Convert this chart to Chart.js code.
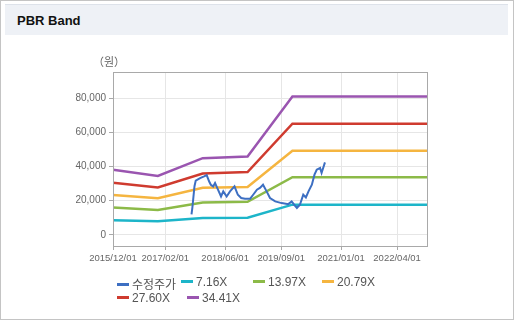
<!DOCTYPE html>
<html>
<head>
<meta charset="utf-8">
<script src="https://cdn.jsdelivr.net/npm/chart.js@4.4.0/dist/chart.umd.min.js"></script>
<style>
  body { margin: 0; background: #fff; font-family: "Liberation Sans", Arial, sans-serif; }
  #frame { position: absolute; left: 0; top: 0; width: 512px; height: 318px; border: 1px solid #c4c4c4; }
  #header { position: absolute; left: 5px; top: 4px; width: 503px; height: 30px; background: #eef1f6; border-top: 1px solid #dde2ea; }
  #title { position: absolute; left: 12px; top: 8px; font-weight: bold; font-size: 13px; color: #111; }
  #unit { position: absolute; left: 93px; top: 53px; font-size: 11px; color: #666; font-family: "Noto Sans CJK KR", sans-serif; }
  #wrap { position: absolute; left: 0; top: 0; width: 514px; height: 325px; }
  .lg { position: absolute; font-size: 12px; color: #555; white-space: nowrap; font-family: "Liberation Sans", "Noto Sans CJK KR", sans-serif; }
  .lg i { display: inline-block; width: 12px; height: 3px; margin-right: 3px; vertical-align: middle; position: relative; top: -1px; }
</style>
</head>
<body>
<div id="frame"></div>
<div id="header"><div id="title">PBR Band</div></div>
<div id="wrap"><canvas id="pbrChart" width="514" height="325"></canvas></div>
<div id="unit">（원）</div>
<div id="legend"></div>
<script>
// 가격 시계열 (수정주가)
const priceDates = [
  '2017/09/01', '2017/09/08', '2017/09/25', '2017/10/05', '2017/11/10', '2017/12/12',
  '2018/01/03', '2018/01/22', '2018/02/06', '2018/02/25', '2018/03/10', '2018/03/22',
  '2018/04/28', '2018/05/16', '2018/06/13', '2018/07/10', '2018/08/16', '2018/09/13',
  '2018/10/10', '2018/11/10', '2018/12/22', '2019/01/16', '2019/02/16', '2019/03/10',
  '2019/04/05', '2019/05/04', '2019/06/01', '2019/07/13', '2019/09/04', '2019/10/28',
  '2019/11/25', '2019/12/16', '2020/01/07', '2020/02/01', '2020/02/28', '2020/03/19',
  '2020/04/10', '2020/05/07', '2020/05/28', '2020/06/16', '2020/07/13', '2020/07/25',
  '2020/08/22'
];
const priceValues = [
  12000, 16000, 28500, 31800, 33300, 34300,
  35000, 31400, 29400, 28400, 30400, 28400,
  22500, 25500, 22500, 25500, 28400, 23500,
  21600, 21200, 21200, 23500, 26500, 27500,
  29400, 25500, 21600, 19600, 18600, 18000,
  19600, 17600, 15700, 17600, 23500, 21900,
  25500, 29400, 35300, 38200, 39200, 36300,
  42500
];

// 밴드 기준일과 배수별 가격
const bandDates = ['2015/12/01', '2016/12/01', '2017/12/01', '2018/12/01', '2019/12/01', '2022/12/01'];
const band716 = [8500, 7900, 9800, 10000, 17700, 17700];
const band1397 = [16000, 14500, 19000, 19400, 33800, 33800];
const band2079 = [23300, 21400, 27600, 28000, 49300, 49300];
const band2760 = [30600, 27800, 36000, 36800, 65200, 65200];
const band3441 = [38200, 34500, 45000, 46000, 81200, 81200];

const xTickLabels = ['2015/12/01', '2017/02/01', '2018/06/01', '2019/09/01', '2021/01/01', '2022/04/01'];
const yTickValues = [0, 20000, 40000, 60000, 80000];

// 날짜 문자열 -> 2015/12/01 기준 개월 수
function monthIndex(str) {
  const [y, m, d] = str.split('/').map(Number);
  return (y - 2015) * 12 + (m - 12) + (d - 1) / 30;
}
function toPoints(dates, values) {
  return dates.map((d, i) => ({ x: monthIndex(d), y: values[i] }));
}

const series = [
  { label: '수정주가', color: '#3d6fc2', data: toPoints(priceDates, priceValues), width: 2 },
  { label: '7.16X', color: '#1db5c9', data: toPoints(bandDates, band716), width: 2.5 },
  { label: '13.97X', color: '#8cba48', data: toPoints(bandDates, band1397), width: 2.5 },
  { label: '20.79X', color: '#f5b540', data: toPoints(bandDates, band2079), width: 2.5 },
  { label: '27.60X', color: '#cf3b2f', data: toPoints(bandDates, band2760), width: 2.5 },
  { label: '34.41X', color: '#9a55b0', data: toPoints(bandDates, band3441), width: 2.5 }
];

// 차트 영역 테두리
const frameBox = {
  id: 'frameBox',
  afterDraw(chart) {
    const a = chart.chartArea, ctx = chart.ctx;
    ctx.save();
    ctx.strokeStyle = '#a9a9a9';
    ctx.lineWidth = 1;
    ctx.strokeRect(Math.round(a.left) + 0.5, Math.round(a.top) + 0.5, Math.round(a.right - a.left), Math.round(a.bottom - a.top));
    ctx.restore();
  }
};

const chart = new Chart(document.getElementById('pbrChart').getContext('2d'), {
  type: 'line',
  data: {
    datasets: series.map(s => ({
      label: s.label, data: s.data, borderColor: s.color, backgroundColor: s.color,
      borderWidth: s.width, pointRadius: 0, tension: 0, fill: false
    }))
  },
  options: {
    responsive: false,
    animation: false,
    layout: { padding: { left: 0, top: 72, right: 87, bottom: 59 } },
    plugins: { legend: { display: false }, tooltip: { enabled: false } },
    scales: {
      x: {
        type: 'linear', min: 0, max: 84,
        afterBuildTicks: scale => { scale.ticks = xTickLabels.map(t => ({ value: monthIndex(t) })); },
        afterFit: scale => { scale.height = 20; },
        ticks: {
          color: '#666', font: { size: 9.5, family: 'Liberation Sans' }, maxRotation: 0, autoSkip: false, padding: 3,
          callback: (v, i) => xTickLabels[i]
        },
        grid: { color: '#e6e6e6', tickColor: '#a9a9a9', tickLength: 4 },
        border: { color: '#a9a9a9' }
      },
      y: {
        min: -6600, max: 95600,
        afterBuildTicks: scale => { scale.ticks = yTickValues.map(v => ({ value: v })); },
        afterFit: scale => { scale.width = 113; },
        ticks: {
          color: '#666', font: { size: 10, family: 'Liberation Sans' }, padding: 3,
          callback: v => v.toLocaleString('en-US')
        },
        grid: { color: '#e6e6e6', tickColor: '#a9a9a9', tickLength: 4 },
        border: { color: '#a9a9a9' }
      }
    }
  },
  plugins: [frameBox]
});

// 범례
const legendPos = [[117, 283], [181, 283], [253, 283], [322, 283], [117, 299], [187, 299]];
const legendEl = document.getElementById('legend');
chart.data.datasets.forEach((ds, i) => {
  const item = document.createElement('div');
  item.className = 'lg';
  item.style.left = legendPos[i][0] + 'px';
  item.style.top = (legendPos[i][1] - 8) + 'px';
  item.innerHTML = '<i style="background:' + ds.borderColor + '"></i>' + ds.label;
  legendEl.appendChild(item);
});
</script>
</body>
</html>
